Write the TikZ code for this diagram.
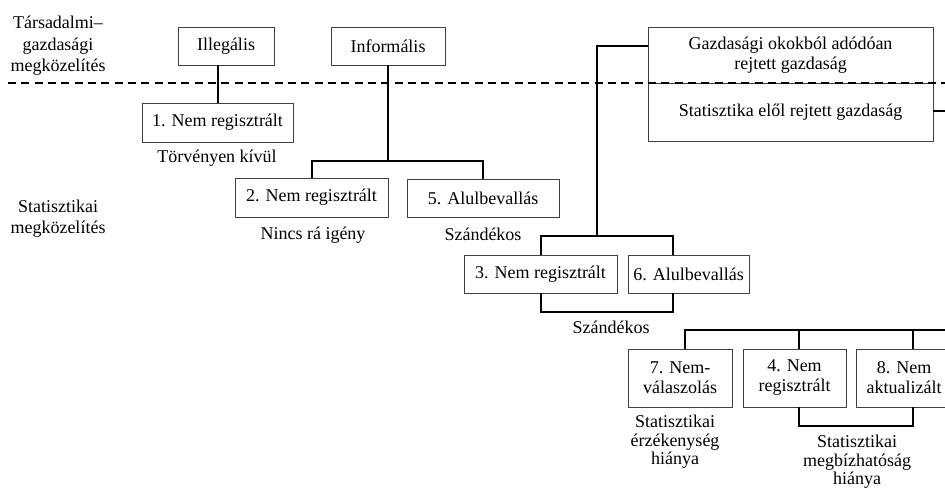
\documentclass[tikz,border=0pt]{standalone}
\usepackage{fontspec}
\setmainfont{Liberation Serif}
\newcommand\myfs{\fontsize{13.5pt}{15pt}\selectfont}
\begin{document}
\begin{tikzpicture}[x=0.75pt,y=-0.75pt,
  box/.style={draw=black!75, line width=0.6pt, inner sep=0pt, align=center, font=\myfs},
  lbl/.style={inner sep=0pt, align=center, font=\myfs},
  conn/.style={line width=1.5pt, line join=miter},
  sep/.style={line width=1.5pt, dash pattern=on 6pt off 4pt}]
\useasboundingbox (0,0) rectangle (945,492);
\clip (0,0) rectangle (945,492);
% boxes
\node[box, minimum width=72pt, minimum height=28.5pt] (ill) at (226,46) {Illegális};
\node[box, minimum width=85.5pt, minimum height=28.5pt] (inf) at (388,46) {Informális};
\node[box, minimum width=213.75pt, minimum height=42pt] (gazd) at (790.5,55) {Gazdasági okokból adódóan\\rejtett gazdaság};
\node[box, minimum width=213.75pt, minimum height=43.5pt] (stat) at (790.5,112) {Statisztika elől rejtett gazdaság};
\node[box, minimum width=113.25pt, minimum height=29.25pt] (b1) at (217.5,122.5) {1. Nem regisztrált};
\node[box, minimum width=114.75pt, minimum height=29.25pt] (b2) at (311.5,197.5) {2. Nem regisztrált};
\node[box, minimum width=114pt, minimum height=28.5pt] (b5) at (483,198) {5. Alulbevallás};
\node[box, minimum width=114.75pt, minimum height=28.5pt] (b3) at (540.5,274) {3. Nem regisztrált};
\node[box, minimum width=90.75pt, minimum height=28.5pt] (b6) at (688.5,274) {6. Alulbevallás};
\node[box, minimum width=78pt, minimum height=43.5pt] (b7) at (680,378) {7. Nem-\\válaszolás};
\node[box, minimum width=77.25pt, minimum height=43.5pt] (b4) at (794.5,378) {4. Nem\\regisztrált};
\node[box, minimum width=72pt, minimum height=43.5pt] (b8) at (904,378) {8. Nem\\aktualizált};
% labels
\node[lbl, font=\fontsize{13.5pt}{16pt}\selectfont] (l1) at (58,46) {Társadalmi–\\gazdasági\\megközelítés};
\node[lbl, font=\fontsize{13.5pt}{16pt}\selectfont] (l2) at (58,219) {Statisztikai\\megközelítés};
\node[lbl] (t1) at (217,158) {Törvényen kívül};
\node[lbl] (t2) at (313,235) {Nincs rá igény};
\node[lbl] (t5) at (483,234) {Szándékos};
\node[lbl] (t36) at (611,327) {Szándékos};
\node[lbl, font=\fontsize{13.5pt}{14pt}\selectfont] (t7) at (675,442) {Statisztikai\\érzékenység\\hiánya};
\node[lbl, font=\fontsize{13.5pt}{14pt}\selectfont] (t48) at (857,462) {Statisztikai\\megbízhatóság\\hiánya};
% separator
\coordinate (sl) at (8,83);
\coordinate (sr) at (945,83);
\draw[sep] (sl) -- (sr);
% connectors
\draw[conn] (b1.north) -- (b1.north |- ill.south);
\coordinate (j1) at (388,161);
\draw[conn] (inf.south) -- (j1);
\draw[conn] (b2.north) |- (b5.north |- j1) -- (b5.north);
\coordinate (j2) at (597,236);
\draw[conn] ([yshift=6.75pt]gazd.west) -| (j2);
\draw[conn] (b3.north) |- ([xshift=-11.625pt]b6.north |- j2) -- ([xshift=-11.625pt]b6.north);
\draw[conn] (b3.south) -- ++(0,19) -| ([xshift=-11.625pt]b6.south);
\coordinate (r) at (960,330);
\draw[conn] ([yshift=0.75pt]stat.east) -| (r) -| ([xshift=3.75pt]b7.north);
\draw[conn] ([xshift=3.375pt]b4.north) -- ([xshift=3.375pt]b4.north |- r);
\draw[conn] ([xshift=6.75pt]b8.north) -- ([xshift=6.75pt]b8.north |- r);
\draw[conn] ([xshift=3.375pt]b4.south) -- ++(0,19) -| ([xshift=6.75pt]b8.south);
\end{tikzpicture}
\end{document}
